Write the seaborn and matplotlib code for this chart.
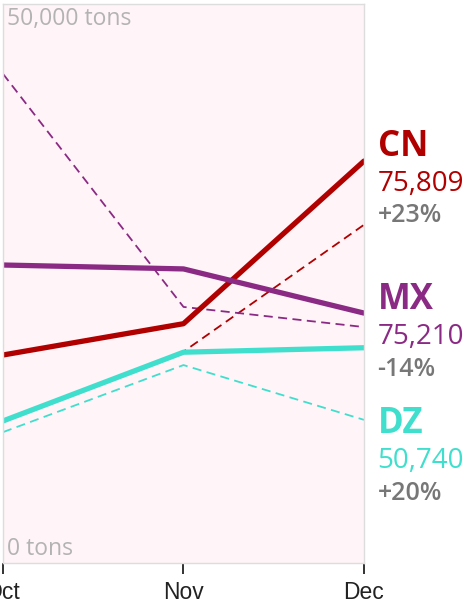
import pandas as pd
import matplotlib.pyplot as plt
import seaborn as sns

# Values (tons)
months = ['Oct', 'Nov', 'Dec']
countries = ['CN', 'MX', 'DZ']
current = {
    'CN': [18600, 21400, 35950],
    'MX': [26650, 26300, 22350],
    'DZ': [12700, 18850, 19250],
}
prior = {
    'CN': [12600, 18900, 30250],
    'MX': [43750, 22900, 21100],
    'DZ': [11700, 17700, 12800],
}
last_value = ['75,809', '75,210', '50,740']
change = ['+23%', '-14%', '+20%']
colors = {'CN': '#b00000', 'MX': '#8b2a84', 'DZ': '#40dfcd'}

rows = []
for c in countries:
    for i, m in enumerate(months):
        rows.append({'country': c, 'pos': i, 'tons': current[c][i], 'kind': 'current'})
        rows.append({'country': c, 'pos': i, 'tons': prior[c][i], 'kind': 'prior'})
df = pd.DataFrame(rows)

sns.set_style('white')
plt.rcParams['font.family'] = ['Open Sans', 'DejaVu Sans']

fig = plt.figure(figsize=(4.75, 6.04), dpi=100)
ax = fig.add_axes([0.0063, 0.068, 0.7600, 0.9254])
ax.set_facecolor('#fff4f7')

# prior year dashed lines underneath
sns.lineplot(data=df[df['kind'] == 'prior'], x='pos', y='tons', hue='country',
             palette=colors, linewidth=1.3, dashes=False, legend=False, ax=ax)
for line in ax.get_lines():
    line.set_dashes((5, 3))
    line.set_solid_capstyle('butt')

sns.lineplot(data=df[df['kind'] == 'current'], x='pos', y='tons', hue='country',
             palette=colors, linewidth=3.8, legend=False, ax=ax)

ax.set_xlim(0, 2)
ax.set_ylim(0, 50000)
ax.set_xticks(range(len(months)))
ax.set_xticklabels(months, fontsize=16.5, color='#222222', family='Liberation Sans')
ax.set_yticks([])
ax.set_xlabel('')
ax.set_ylabel('')
ax.tick_params(axis='x', length=8, width=1.3, color='#222222', pad=5, bottom=True)
for s in ax.spines.values():
    s.set_color('#dddddd')
    s.set_linewidth(1)

ax.text(0.012, 0.995, '50,000 tons', transform=ax.transAxes, ha='left', va='top',
        fontsize=16.5, color='#b3b3b3')
ax.text(0.012, 0.004, '0 tons', transform=ax.transAxes, ha='left', va='bottom',
        fontsize=16.5, color='#b3b3b3')

label_y = [147, 300, 424]
for c, y0, v, ch in zip(countries, label_y, last_value, change):
    fy = 1 - y0 / 604
    fig.text(0.795, fy, c, ha='left', va='center', fontsize=25, fontweight='bold',
             color=colors[c])
    fig.text(0.795, fy - 37 / 604, v, ha='left', va='center', fontsize=20,
             color=colors[c])
    fig.text(0.795, fy - 69 / 604, ch, ha='left', va='center', fontsize=18,
             fontweight='semibold', color='#777777')

fig.savefig('out.png', dpi=100)
